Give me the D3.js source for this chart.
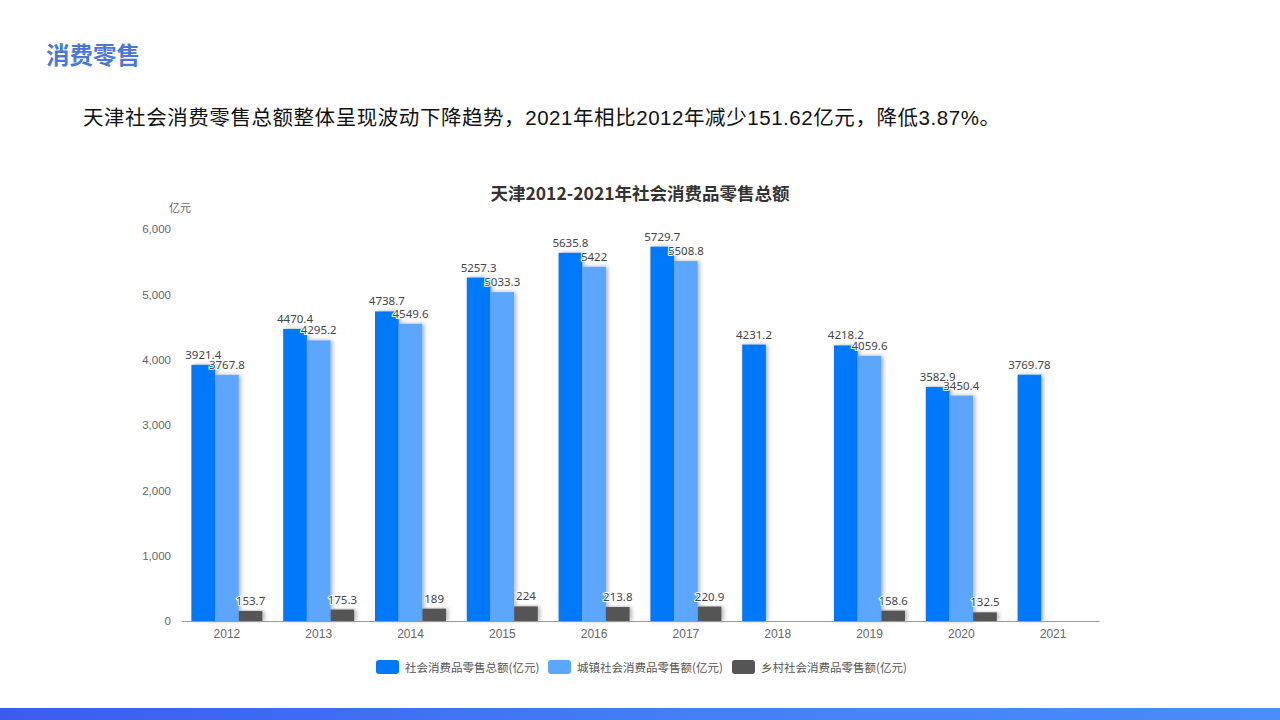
<!DOCTYPE html>
<html>
<head>
<meta charset="utf-8">
<script src="https://cdn.jsdelivr.net/npm/d3@7"></script>
<style>
  html, body { margin: 0; padding: 0; background: #fff; }
  svg { display: block; }
</style>
</head>
<body>
<svg id="chart" width="1280" height="720"></svg>
<script>
const years = ['2012', '2013', '2014', '2015', '2016', '2017', '2018', '2019', '2020', '2021'];
const totalSales = [3921.4, 4470.4, 4738.7, 5257.3, 5635.8, 5729.7, 4231.2, 4218.2, 3582.9, 3769.78];
const urbanSales = [3767.8, 4295.2, 4549.6, 5033.3, 5422, 5508.8, null, 4059.6, 3450.4, null];
const ruralSales = [153.7, 175.3, 189, 224, 213.8, 220.9, null, 158.6, 132.5, null];
const seriesNames = ['社会消费品零售总额(亿元)', '城镇社会消费品零售额(亿元)', '乡村社会消费品零售额(亿元)'];
const yTicks = [0, 1000, 2000, 3000, 4000, 5000, 6000];

const colors = ['#0078fa', '#5ba6ff', '#555555'];
const seriesValues = [totalSales, urbanSales, ruralSales];

const margin = {top: 229, right: 181, bottom: 99, left: 181};
const width = 1280 - margin.left - margin.right;
const height = 720 - margin.top - margin.bottom;

const svg = d3.select('#chart');

// drop shadow for the bars
const defs = svg.append('defs');
defs.append('filter').attr('id', 'shadow')
    .attr('x', '-30%').attr('y', '-10%').attr('width', '160%').attr('height', '120%')
  .append('feDropShadow')
    .attr('dx', 2).attr('dy', 0).attr('stdDeviation', 2)
    .attr('flood-color', '#000').attr('flood-opacity', 0.3);

const grad = defs.append('linearGradient').attr('id', 'footer');
grad.append('stop').attr('offset', '0%').attr('stop-color', '#3b5bef');
grad.append('stop').attr('offset', '55%').attr('stop-color', '#4480f6');
grad.append('stop').attr('offset', '100%').attr('stop-color', '#4a8cf9');

// page header
svg.append('text')
    .attr('x', 46).attr('y', 64)
    .style('font-family', '"Noto Sans CJK SC", serif')
    .style('font-size', '23.5px').style('font-weight', 'bold')
    .attr('fill', '#4b78d6')
    .text('消费零售');

svg.append('text')
    .attr('x', 83).attr('y', 125)
    .attr('textLength', 917).attr('lengthAdjust', 'spacing')
    .style('font-family', '"Liberation Sans", "Noto Sans CJK SC", sans-serif')
    .style('font-size', '20.5px')
    .attr('fill', '#111')
    .text('天津社会消费零售总额整体呈现波动下降趋势，2021年相比2012年减少151.62亿元，降低3.87%。');

svg.append('rect')
    .attr('x', 0).attr('y', 708).attr('width', 1280).attr('height', 12)
    .attr('fill', 'url(#footer)');

// chart title
svg.append('text')
    .attr('x', 640).attr('y', 200)
    .attr('text-anchor', 'middle')
    .style('font-family', '"Noto Sans CJK SC", sans-serif')
    .style('font-size', '17.5px').style('font-weight', 'bold')
    .attr('fill', '#333')
    .text('天津2012-2021年社会消费品零售总额');

const g = svg.append('g')
    .attr('transform', 'translate(' + margin.left + ',' + margin.top + ')')
    .style('font-family', '"Noto Sans", "Noto Sans CJK SC", sans-serif');

const x0 = d3.scaleBand().domain(years).range([0, width]).padding(0);
const groupWidth = 71;
const x1 = d3.scaleBand().domain(d3.range(3))
    .range([(x0.bandwidth() - groupWidth) / 2, (x0.bandwidth() + groupWidth) / 2]);
const y = d3.scaleLinear().domain([0, 6000]).range([height, 0]);

// y axis (labels only)
const yAxis = g.append('g')
    .call(d3.axisLeft(y).tickValues(yTicks).tickFormat(d3.format(',')).tickSize(0).tickPadding(10));
yAxis.select('.domain').remove();
yAxis.selectAll('text').attr('fill', '#666').style('font-size', '11.5px');

g.append('text')
    .attr('x', -12).attr('y', -17)
    .style('font-family', '"Noto Sans CJK SC", sans-serif')
    .style('font-size', '11px')
    .attr('fill', '#666')
    .text('亿元');

// bars
const rows = [];
years.forEach((yr, i) => {
  seriesValues.forEach((vals, s) => {
    if (vals[i] != null) rows.push({year: yr, s: s, value: vals[i]});
  });
});

g.selectAll('rect.bar').data(rows).join('rect')
    .attr('class', 'bar')
    .attr('x', (d) => x0(d.year) + x1(d.s))
    .attr('y', (d) => y(d.value))
    .attr('width', x1.bandwidth())
    .attr('height', (d) => height - y(d.value))
    .attr('fill', (d) => colors[d.s])
    .attr('filter', 'url(#shadow)');

g.selectAll('text.lbl').data(rows).join('text')
    .attr('class', 'lbl')
    .attr('x', (d) => x0(d.year) + x1(d.s) + x1.bandwidth() / 2)
    .attr('y', (d) => y(d.value) - 6)
    .attr('text-anchor', 'middle')
    .style('font-size', '11.5px')
    .attr('fill', '#444')
    .attr('stroke', '#fff').attr('stroke-width', 2).attr('paint-order', 'stroke')
    .text((d) => d.value);

// x axis
const xAxis = g.append('g')
    .attr('transform', 'translate(0,' + height + ')')
    .call(d3.axisBottom(x0).tickSize(0).tickPadding(8));
xAxis.select('.domain').attr('stroke', '#999').attr('stroke-width', 1.2);
xAxis.selectAll('text').attr('fill', '#666').style('font-size', '12px');

// legend
const legendX = [376, 548, 732];
const legend = svg.append('g')
    .style('font-family', '"Noto Sans CJK SC", sans-serif');
seriesNames.forEach((name, i) => {
  const item = legend.append('g').attr('transform', 'translate(' + legendX[i] + ',660)');
  item.append('rect')
      .attr('width', 23).attr('height', 14).attr('rx', 3)
      .attr('fill', colors[i]);
  item.append('text')
      .attr('x', 29).attr('y', 11.5)
      .style('font-size', '11.5px')
      .attr('fill', '#555')
      .text(name);
});
</script>
</body>
</html>
